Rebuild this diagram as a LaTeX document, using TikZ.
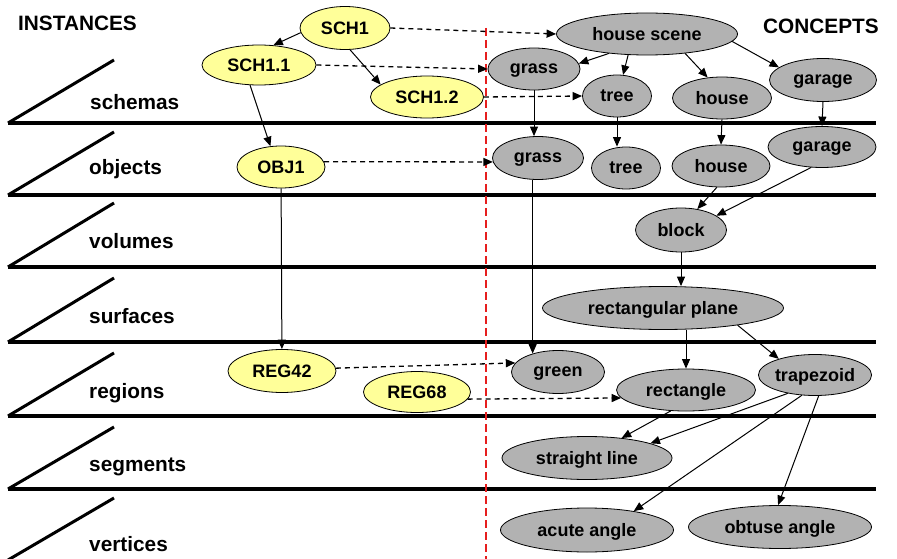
\documentclass[tikz,border=0pt]{standalone}
\usepackage{fontspec}
\setmainfont{Liberation Sans}
\usetikzlibrary{shapes.geometric,arrows.meta}
\definecolor{instfill}{RGB}{255,255,153}
\definecolor{concfill}{RGB}{178,178,178}
\definecolor{sepred}{RGB}{230,30,30}
\begin{document}
\begin{tikzpicture}[x=1pt,y=-1pt,
  inst/.style={ellipse,draw,line width=0.8pt,fill=instfill,inner sep=0pt,text depth=0pt,font=\fontsize{18}{21}\selectfont\bfseries},
  conc/.style={ellipse,draw,line width=0.8pt,fill=concfill,inner sep=0pt,text depth=0pt,font=\fontsize{18}{21}\selectfont\bfseries},
  lvllabel/.style={anchor=base west,inner sep=0pt,font=\fontsize{20.8}{24}\selectfont\bfseries},
  lvlline/.style={line width=3.8pt},
  diagline/.style={line width=3pt},
  arr/.style={-{Triangle[length=9.5pt,width=8pt]},line width=1pt},
  darr/.style={-{Triangle[length=9.5pt,width=8pt]},line width=1.3pt,dash pattern=on 5pt off 4pt},
]
\useasboundingbox (0,0) rectangle (897,559);

% level lines
\foreach \yb/\yt in {123/60,195/132,267/203,342/278,416/353,489/427,560/498}{
  \draw[diagline] (8,\yb) -- (114,\yt);
}
\foreach \yb in {123,195,267,342,416,489}{
  \draw[lvlline] (8,\yb) -- (876,\yb);
}

% labels
\node[lvllabel] (linst) at (18,31) {INSTANCES};
\node[lvllabel] (lconc) at (763,34) {CONCEPTS};
\node[lvllabel] (lsch) at (90,110) {schemas};
\node[lvllabel] (lobj) at (89,175) {objects};
\node[lvllabel] (lvol) at (89,248) {volumes};
\node[lvllabel] (lsur) at (89,323) {surfaces};
\node[lvllabel] (lreg) at (89,398) {regions};
\node[lvllabel] (lseg) at (89,471) {segments};
\node[lvllabel] (lver) at (89,551) {vertices};

% red separator
\coordinate (septop) at (486,28);
\coordinate (sepbot) at (486,559);
\draw[sepred,line width=1.5pt,dash pattern=on 8pt off 4pt] (septop) -- (sepbot);

% instance nodes
\node[inst,minimum width=90pt,minimum height=43pt] (sch1) at (345,28) {SCH1};
\node[inst,minimum width=114pt,minimum height=40pt] (sch11) at (259,65) {SCH1.1};
\node[inst,minimum width=113pt,minimum height=42pt] (sch12) at (427,97) {SCH1.2};
\node[inst,minimum width=88pt,minimum height=42pt] (obj1) at (281,167) {OBJ1};
\node[inst,minimum width=108pt,minimum height=43pt] (reg42) at (282,371) {REG42};
\node[inst,minimum width=107pt,minimum height=41pt] (reg68) at (417,392) {REG68};

% concept nodes
\node[conc,minimum width=181pt,minimum height=42pt] (hs) at (647,34) {house scene};
\node[conc,minimum width=92pt,minimum height=42pt] (grass1) at (534,69) {grass};
\node[conc,minimum width=69pt,minimum height=42pt] (tree1) at (617,96) {tree};
\node[conc,minimum width=99pt,minimum height=42pt] (house1) at (722,98) {house};
\node[conc,minimum width=107pt,minimum height=43pt] (garage1) at (823,80) {garage};
\node[conc,minimum width=91pt,minimum height=43pt] (grass2) at (538,158) {grass};
\node[conc,minimum width=69pt,minimum height=42pt] (tree2) at (626,168) {tree};
\node[conc,minimum width=98pt,minimum height=42pt] (house2) at (721,166) {house};
\node[conc,minimum width=108pt,minimum height=41pt] (garage2) at (822,147) {garage};
\node[conc,minimum width=91pt,minimum height=44pt] (block) at (681,230) {block};
\node[conc,minimum width=241pt,minimum height=43pt] (rp) at (663,308) {rectangular plane};
\node[conc,minimum width=93pt,minimum height=43pt] (green) at (558,372) {green};
\node[conc,minimum width=139pt,minimum height=42pt] (rect) at (686,390) {rectangle};
\node[conc,minimum width=110pt,minimum height=41pt] (trap) at (815,375) {trapezoid};
\node[conc,minimum width=170pt,minimum height=43pt] (sl) at (587,458) {straight line};
\node[conc,minimum width=173pt,minimum height=44pt] (acute) at (587,530) {acute angle};
\node[conc,minimum width=183pt,minimum height=43pt] (obtuse) at (780,527) {obtuse angle};

% instance edges
\draw[arr] (sch1.186) -- (sch11.54);
\draw[arr] (sch1.283) -- (sch12.165);
\draw[arr] (sch11.246) -- (obj1.117);
\draw[arr] (obj1) -- (reg42);

% dashed correspondences
\draw[darr] (sch1.east) -- (hs.west);
\draw[darr] (sch11.east) -- (grass1.west);
\draw[darr] (sch12.east) -- (tree1.west);
\draw[darr] (obj1.7) -- (grass2.185);
\draw[darr] (reg42.3) -- (green.168);
\draw[darr] (reg68.-8) -- (rect.187);

% concept edges
\draw[arr] (hs.207) -- (grass1.7);
\draw[arr] (hs.228) -- (tree1.74);
\draw[arr] (hs.333) -- (house1.125);
\draw[arr] (hs.355) -- (garage1.164);
\draw[arr] (grass1.south) -- (grass1.south |- grass2.north);
\draw[arr] (tree1.south) -- (tree1.south |- tree2.north);
\draw[arr] (house1.south) -- (house2.north);
\draw[arr] (garage1.south) -- (garage2.north);
\draw[arr] (house2.259) -- (block.52);
\draw[arr] (garage2.242) -- (block.22);
\draw[arr] (block.south) -- (block.south |- rp.north);
\draw[arr] (green.144 |- grass2.south) -- (green.144);
\draw[arr] (rp.south -| rect.north) -- (rect.north);
\draw[arr] (rp.347) -- (trap.156);
\draw[arr] (rect.234) -- (sl.30);
\draw[arr] (trap.214) -- (sl.13);
\draw[arr] (trap.237) -- (acute.22);
\draw[arr] (trap.280) -- (obtuse.95);
\end{tikzpicture}
\end{document}
